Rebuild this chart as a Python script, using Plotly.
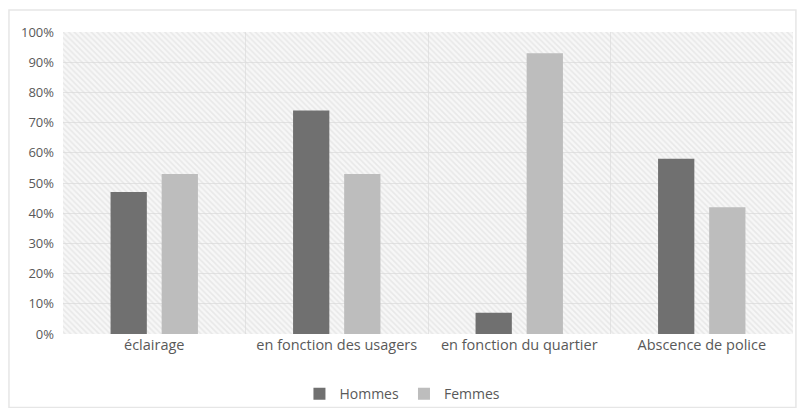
import plotly.graph_objects as go

categories = ["éclairage", "en fonction des usagers", "en fonction du quartier", "Abscence de police"]
hommes = [0.47, 0.74, 0.07, 0.58]
femmes = [0.53, 0.53, 0.93, 0.42]
y_ticks = [i / 10 for i in range(11)]
y_ticklabels = [f"{i*10}%" for i in range(11)]

xpos = list(range(len(categories)))
txt = "#595959"
font = "Open Sans"
lo, hi = -0.5, len(categories) - 0.5

fig = go.Figure()
# hatched plot background on the base subplot
fig.add_trace(go.Scatter(
    x=[lo, hi, hi, lo, lo], y=[0, 0, 1, 1, 0], mode="lines", fill="toself",
    line=dict(width=0), fillcolor="rgba(0,0,0,0)",
    fillpattern=dict(shape="\\", fgcolor="#d9d9d9", size=4, solidity=0.4),
    hoverinfo="skip", showlegend=False, xaxis="x", yaxis="y"))
fig.add_trace(go.Bar(name="Hommes", x=xpos, y=hommes, xaxis="x2", yaxis="y2",
                     marker=dict(color="#707070", line=dict(width=0))))
fig.add_trace(go.Bar(name="Femmes", x=xpos, y=femmes, xaxis="x2", yaxis="y2",
                     marker=dict(color="#bdbdbd", line=dict(width=0))))

fig.update_layout(
    width=789, height=400,
    margin=dict(l=55, r=4, t=24, b=74, autoexpand=False),
    paper_bgcolor="white", plot_bgcolor="#f7f7f7",
    barmode="group", bargap=0.44, bargroupgap=0.29,
    font=dict(family=font, size=13, color=txt),
    legend=dict(orientation="h", x=0.465, xanchor="center", y=-0.199, yanchor="middle",
                font=dict(size=14, color=txt), itemwidth=30, traceorder="normal",
                tracegroupgap=0, bgcolor="rgba(0,0,0,0)"),
    xaxis=dict(range=[lo, hi], tickmode="array", tickvals=xpos, ticktext=categories,
               showgrid=False, zeroline=False, showline=False, ticks="",
               minor=dict(tickmode="array", tickvals=[0.5, 1.5, 2.5], showgrid=True,
                          gridcolor="#e4e4e4", gridwidth=1, ticks=""),
               tickfont=dict(size=14.5, color=txt)),
    yaxis=dict(range=[0, 1], tickmode="array", tickvals=y_ticks, ticktext=y_ticklabels,
               showgrid=True, gridcolor="#e2e2e2", gridwidth=1, zeroline=False,
               showline=False, ticks="", ticklabelstandoff=8,
               tickfont=dict(size=13, color=txt)),
    xaxis2=dict(range=[lo, hi], overlaying="x", matches="x", visible=False),
    yaxis2=dict(range=[0, 1], overlaying="y", visible=False),
    shapes=[dict(type="rect", xref="paper", yref="paper",
                 x0=-0.0740, x1=1.0040, y0=-0.243, y1=1.073,
                 line=dict(color="#e6e6e6", width=1.5), fillcolor="rgba(0,0,0,0)", layer="below")],
)
fig.write_html("out.html")
